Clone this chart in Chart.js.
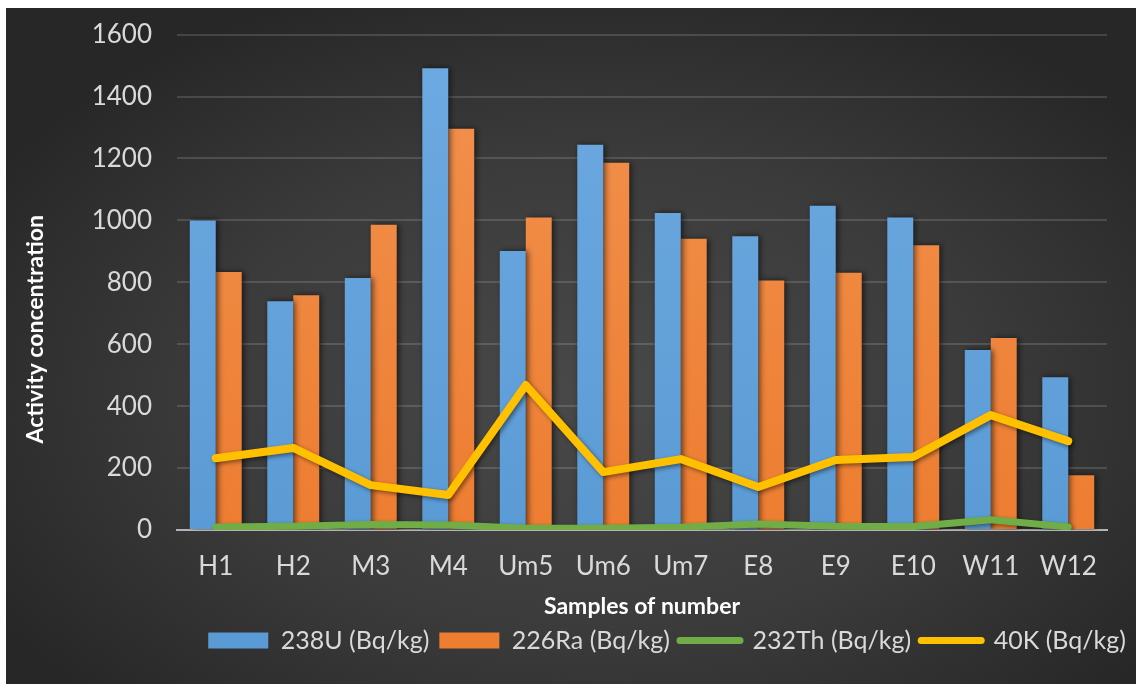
<!DOCTYPE html>
<html>
<head>
<meta charset="utf-8">
<title>Activity concentration by sample</title>
<script src="https://cdn.jsdelivr.net/npm/chart.js@4/dist/chart.umd.min.js"></script>
<style>
  html, body { margin: 0; padding: 0; background: #ffffff; overflow: hidden; }
  #wrap { position: absolute; left: 6px; top: -6px; width: 1130px; height: 690px; }
  #chart { display: block; width: 1130px; height: 690px; }
  #frameTop { position: absolute; left: 0; top: 0; width: 100%; height: 8px; background: #ffffff; z-index: 2; }
</style>
</head>
<body>
<div id="wrap"><canvas id="chart" width="1130" height="690"></canvas></div>
<div id="frameTop"></div>
<script>
// Sample identifiers along the x axis
const categories = ['H1', 'H2', 'M3', 'M4', 'Um5', 'Um6', 'Um7', 'E8', 'E9', 'E10', 'W11', 'W12'];

// Activity concentrations (Bq/kg)
const u238  = [1000, 739, 814, 1491, 901, 1244, 1024, 949, 1047, 1009, 581, 493];
const ra226 = [833, 758, 986, 1296, 1009, 1186, 941, 806, 831, 920, 620, 177];
const th232 = [10, 12, 18, 16, 6, 6, 9, 19, 12, 11, 33, 10];
const k40   = [232, 265, 145, 113, 468, 187, 229, 139, 226, 236, 371, 287];

// Series names
const seriesNames = ['238U (Bq/kg)', '226Ra (Bq/kg)', '232Th (Bq/kg)', '40K (Bq/kg)'];

// Value axis ticks
const yTicks = { min: 0, max: 1600, step: 200 };

const FONT = "Lato, 'Noto Sans', 'DejaVu Sans', sans-serif";
const TICK_COLOR = '#d9d9d9';

const BLUE = '#5b9bd5', BLUE_LIGHT = '#6eaae2';
const ORANGE = '#ed7d31', ORANGE_LIGHT = '#f2924f';
const GREEN = '#70ad47', YELLOW = '#ffc000';

function barFill(light, base) {
  return (c) => {
    const area = c.chart.chartArea;
    if (!area) return base;
    const g = c.chart.ctx.createLinearGradient(0, area.top, 0, area.bottom);
    g.addColorStop(0, light);
    g.addColorStop(1, base);
    return g;
  };
}

// Dark vignette background behind the whole chart
const backdrop = {
  id: 'backdrop',
  beforeDraw(chart) {
    const { ctx, width, height } = chart;
    ctx.save();
    ctx.fillStyle = '#2a2a2a';
    ctx.fillRect(0, 0, width, height);
    ctx.translate(width * 0.52, height * 0.58);
    ctx.scale(1, 0.62);
    const r = width * 0.62;
    const g = ctx.createRadialGradient(0, 0, 0, 0, 0, r);
    g.addColorStop(0, '#494949');
    g.addColorStop(0.55, '#3b3b3b');
    g.addColorStop(1, '#272727');
    ctx.fillStyle = g;
    ctx.fillRect(-r * 2, -r * 3, r * 4, r * 6);
    ctx.restore();
  }
};

// Soft drop shadow under bars and lines
const markShadow = {
  id: 'markShadow',
  beforeDatasetDraw(chart, args) {
    const ctx = chart.ctx;
    ctx.save();
    const isBar = args.meta.type === 'bar';
    ctx.shadowColor = isBar ? 'rgba(0,0,0,0.6)' : 'rgba(0,0,0,0.45)';
    ctx.shadowBlur = isBar ? 6 : 4;
    ctx.shadowOffsetX = 2;
    ctx.shadowOffsetY = isBar ? 0 : 2;
  },
  afterDatasetDraw(chart) {
    chart.ctx.restore();
  }
};

// Rotated value-axis caption
const valueCaption = {
  id: 'valueCaption',
  afterDraw(chart) {
    const { ctx, chartArea } = chart;
    ctx.save();
    ctx.translate(30, (chartArea.top + chartArea.bottom) / 2 + 47);
    ctx.rotate(-Math.PI / 2);
    ctx.font = `bold 23px ${FONT}`;
    ctx.fillStyle = '#ffffff';
    ctx.textAlign = 'center';
    ctx.textBaseline = 'middle';
    ctx.fillText('Activity concentration', 0, 0);
    ctx.restore();
  }
};

function build() {
  const ctx = document.getElementById('chart').getContext('2d');
  new Chart(ctx, {
    type: 'bar',
    data: {
      labels: categories,
      datasets: [
        { type: 'bar', label: seriesNames[0], data: u238, order: 2,
          backgroundColor: barFill(BLUE_LIGHT, BLUE), legendColor: BLUE, borderWidth: 0 },
        { type: 'bar', label: seriesNames[1], data: ra226, order: 2,
          backgroundColor: barFill(ORANGE_LIGHT, ORANGE), legendColor: ORANGE, borderWidth: 0 },
        { type: 'line', label: seriesNames[2], data: th232, order: 1,
          borderColor: GREEN, backgroundColor: GREEN, borderWidth: 7, pointRadius: 0,
          pointHoverRadius: 0, tension: 0, borderJoinStyle: 'round', borderCapStyle: 'round', fill: false },
        { type: 'line', label: seriesNames[3], data: k40, order: 0,
          borderColor: YELLOW, backgroundColor: YELLOW, borderWidth: 8, pointRadius: 0,
          pointHoverRadius: 0, tension: 0, borderJoinStyle: 'round', borderCapStyle: 'round', fill: false }
      ]
    },
    options: {
      responsive: false,
      animation: false,
      devicePixelRatio: 1,
      layout: { padding: { top: 0, bottom: 21, left: 0, right: 0 } },
      datasets: {
        bar: { categoryPercentage: 0.67, barPercentage: 1.0 }
      },
      scales: {
        x: {
          grid: { display: false, drawTicks: false },
          border: { display: true, color: '#b4b4b4', width: 2 },
          ticks: { color: TICK_COLOR, font: { family: FONT, size: 26 }, padding: 21, maxRotation: 0 },
          title: {
            display: true, text: 'Samples of number', color: '#ffffff', padding: 0,
            font: { family: FONT, size: 23, weight: 'bold', lineHeight: 0.95 }
          },
          afterFit(s) { s.height = 88; }
        },
        y: {
          min: yTicks.min, max: yTicks.max,
          ticks: {
            stepSize: yTicks.step, color: TICK_COLOR, font: { family: FONT, size: 26 }, padding: 25,
            callback: (v) => String(v)
          },
          grid: {
            color: (c) => (c.tick && c.tick.value === 0) ? 'rgba(0,0,0,0)' : 'rgba(255,255,255,0.14)',
            lineWidth: 2, drawTicks: false, tickLength: 0
          },
          border: { display: false },
          afterFit(s) { s.width = 171; }
        },
        yRight: {
          position: 'right', display: true,
          grid: { display: false, drawTicks: false },
          border: { display: false },
          ticks: { display: false },
          afterFit(s) { s.width = 29; }
        }
      },
      plugins: {
        legend: {
          position: 'bottom',
          align: 'end',
          labels: {
            usePointStyle: true,
            pointStyleWidth: 60,
            boxHeight: 16,
            padding: 10,
            color: TICK_COLOR,
            font: { family: FONT, size: 25 },
            generateLabels(chart) {
              return chart.data.datasets.map((ds, i) => {
                const isLine = ds.type === 'line';
                const col = isLine ? ds.borderColor : ds.legendColor;
                return {
                  text: ds.label,
                  datasetIndex: i,
                  hidden: !chart.isDatasetVisible(i),
                  fillStyle: col,
                  strokeStyle: col,
                  lineWidth: isLine ? 7 : 0,
                  lineCap: 'round',
                  pointStyle: isLine ? 'line' : 'rect',
                  fontColor: TICK_COLOR
                };
              });
            }
          }
        },
        tooltip: { enabled: false }
      }
    },
    plugins: [backdrop, markShadow, valueCaption]
  });
}

Promise.all([
  document.fonts.load(`26px ${FONT}`),
  document.fonts.load(`bold 23px ${FONT}`)
]).catch(() => {}).then(build);
</script>
</body>
</html>
